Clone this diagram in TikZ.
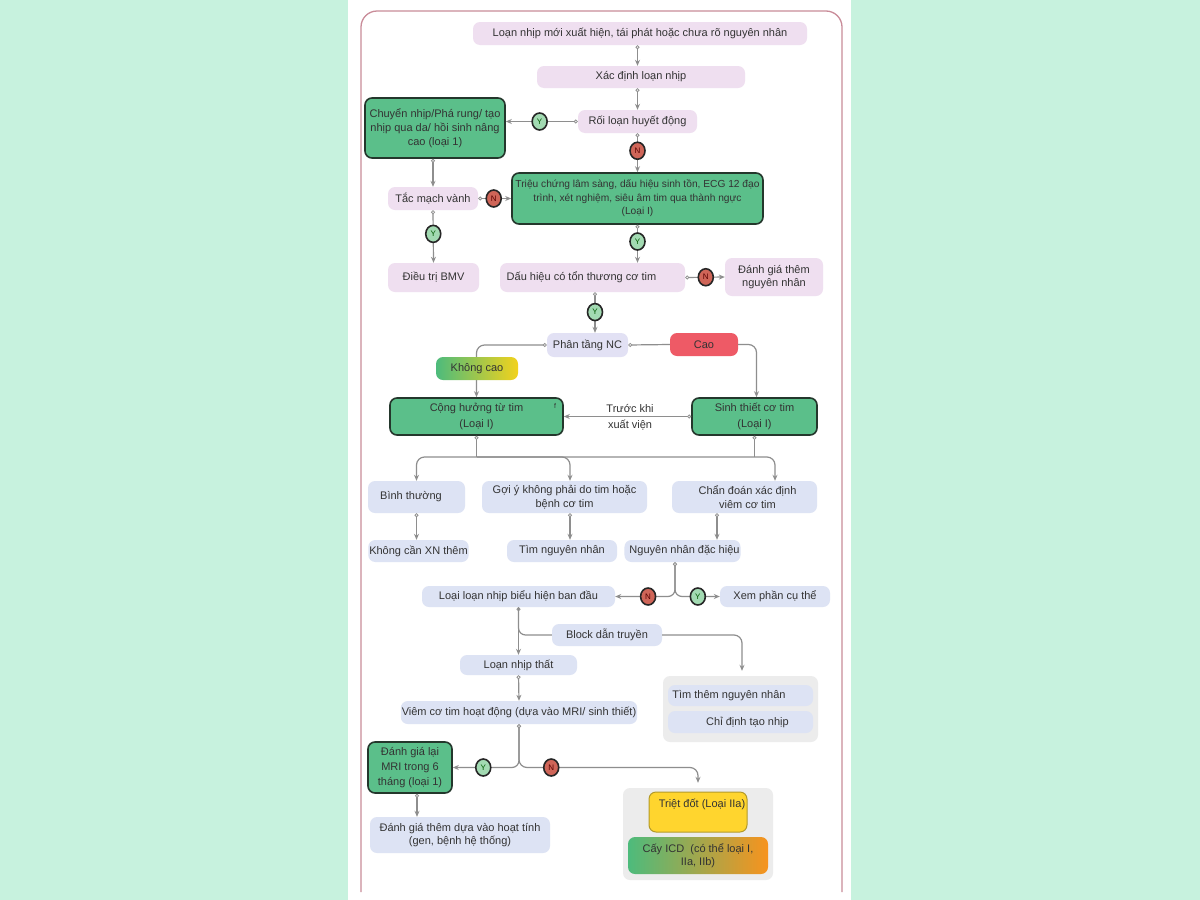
\documentclass[tikz,border=0pt]{standalone}
\usepackage{fontspec}
\setmainfont{Liberation Sans}
\usetikzlibrary{arrows.meta,shapes.geometric,calc}
\definecolor{mint}{HTML}{C7F2DE}
\definecolor{framec}{HTML}{C98C99}
\definecolor{pinkbox}{HTML}{EFDFF0}
\definecolor{lavbox}{HTML}{E2E1F4}
\definecolor{bluebox}{HTML}{DDE3F4}
\definecolor{greenbox}{HTML}{5BBF8A}
\definecolor{greenedge}{HTML}{24372C}
\definecolor{redbox}{HTML}{EE5A66}
\definecolor{linegray}{HTML}{8E8E8E}
\definecolor{txt}{HTML}{333333}
\definecolor{groupgray}{HTML}{ECECEC}
\definecolor{yellowbox}{HTML}{FFD52E}
\definecolor{yellowedge}{HTML}{B39A2A}
\definecolor{orangebox}{HTML}{F7931E}
\definecolor{gradgreen}{HTML}{4DBB7C}
\definecolor{gradyellow}{HTML}{F2D21C}
\definecolor{ygreen}{HTML}{A2DAB2}
\definecolor{nred}{HTML}{CF6558}
\begin{document}
\begin{tikzpicture}[x=1pt,y=-1pt,
  every node/.style={font=\fontsize{11}{13.5}\selectfont, text=txt},
  box/.style={rounded corners=7pt, inner sep=1pt, align=center},
  pinkb/.style={box, fill=pinkbox},
  lavb/.style={box, fill=lavbox},
  blueb/.style={box, fill=bluebox},
  greenb/.style={box, fill=greenbox, draw=greenedge, line width=1.6pt},
  groupb/.style={rounded corners=7pt, fill=groupgray, inner sep=0pt},
  yn/.style={ellipse, draw=black!85, line width=1.6pt, minimum width=15pt, minimum height=17pt, inner sep=0pt, font=\fontsize{8}{8}\selectfont},
  yes/.style={yn, fill=ygreen, text=green!35!black},
  no/.style={yn, fill=nred, text=red!35!black},
  line/.style={draw=linegray, line width=1.2pt},
  dotline/.style={line, {Circle[length=4pt, fill=white, line width=0.8pt]}-},
  conn/.style={line, {Circle[length=4pt, fill=white, line width=0.8pt]}-{Stealth[length=6pt, width=5pt]}},
  plainconn/.style={line, -{Stealth[length=6pt, width=5pt]}}
]
\useasboundingbox (0,0) rectangle (1200,900);
\fill[mint] (0,0) rectangle (1200,900);
\fill[white] (348,0) rectangle (851,900);
\draw[framec, line width=1.3pt, rounded corners=16pt] (361,892) -- (361,11) -- (842,11) -- (842,892);

% nodes
\node[pinkb, minimum width=334pt, minimum height=23pt] (n1) at (640,33.5) {Loạn nhịp mới xuất hiện, tái phát hoặc chưa rõ nguyên nhân};
\node[pinkb, minimum width=208pt, minimum height=22pt] (n2) at (641,77) {Xác định loạn nhịp};
\node[pinkb, minimum width=119pt, minimum height=23pt] (n3) at (637.5,121.5) {Rối loạn huyết động};
\node[greenb, minimum width=140pt, minimum height=60pt, font=\fontsize{11}{14}\selectfont] (n4) at (435,128) {Chuyển nhịp/Phá rung/ tạo\\nhịp qua da/ hồi sinh nâng\\cao (loại 1)};
\node[greenb, minimum width=251pt, minimum height=51pt, font=\fontsize{10.2}{13.5}\selectfont] (n6) at (637.5,198.5) {Triệu chứng lâm sàng, dấu hiệu sinh tồn, ECG 12 đạo\\trình, xét nghiệm, siêu âm tim qua thành ngực\\(Loại I)};
\node[pinkb, minimum width=90pt, minimum height=23pt] (n7) at (433,198.5) {Tắc mạch vành};
\node[pinkb, minimum width=91pt, minimum height=29pt] (n9) at (433.5,277.5) {Điều trị BMV};
\node[pinkb, minimum width=185pt, minimum height=29pt] (n11) at (592.5,277.5) {Dấu hiệu có tổn thương cơ tim\hspace*{22pt}};
\node[pinkb, minimum width=98pt, minimum height=38pt] (n13) at (774,277) {Đánh giá thêm\\nguyên nhân};
\node[lavb, minimum width=81pt, minimum height=24pt] (n15) at (587.5,345) {Phân tầng NC};
\node[box, fill=redbox, minimum width=68pt, minimum height=23pt] (n16) at (704,344.5) {Cao};
\node[greenb, minimum width=173pt, minimum height=37pt, font=\fontsize{11}{16}\selectfont] (n18) at (476.5,416.5) {Cộng hưởng từ tim\\(Loại I)};
\node[greenb, minimum width=125pt, minimum height=37pt, font=\fontsize{11}{16}\selectfont] (n19) at (754.5,416.5) {Sinh thiết cơ tim\\(Loại I)};
\node[font=\fontsize{7}{7}\selectfont] (fmark) at (555,406) {f};
\node[blueb, minimum width=97pt, minimum height=32pt] (n21) at (416.5,497) {Bình thường\hspace*{11pt}};
\node[blueb, minimum width=165pt, minimum height=32pt] (n22) at (564.5,497) {Gợi ý không phải do tim hoặc\\bệnh cơ tim};
\node[blueb, minimum width=145pt, minimum height=32pt] (n23) at (744.5,497) {\hspace*{6pt}Chẩn đoán xác định\\\hspace*{6pt}viêm cơ tim};
\node[blueb, minimum width=97pt, minimum height=22pt] (n25) at (418.5,551) {Không cần XN thêm};
\node[blueb, minimum width=110pt, minimum height=22pt] (n26) at (562,551) {Tìm nguyên nhân};
\node[blueb, minimum width=95pt, minimum height=22pt] (n27) at (682.5,551) {\hspace*{4pt}Nguyên nhân đặc hiệu};
\node[blueb, minimum width=193pt, minimum height=21pt] (n29) at (518.5,596.5) {Loại loạn nhịp biểu hiện ban đầu};
\node[blueb, minimum width=110pt, minimum height=21pt] (n30) at (775,596.5) {Xem phần cụ thể};
\node[blueb, minimum width=110pt, minimum height=22pt] (n31) at (607,635) {Block dẫn truyền};
\node[blueb, minimum width=117pt, minimum height=20pt] (n32) at (518.5,665) {Loạn nhịp thất};
\node[blueb, minimum width=222pt, minimum height=23pt] (n34) at (519,712.5) {Viêm cơ tim hoạt động (dựa vào MRI/ sinh thiết)};
\node[groupb, minimum width=155pt, minimum height=66pt] (g1) at (740.5,709) {};
\node[blueb, minimum width=145pt, minimum height=21pt] (n35a) at (740.5,695.5) {Tìm thêm nguyên nhân\hspace*{23pt}};
\node[blueb, minimum width=145pt, minimum height=22pt] (n35b) at (740.5,722) {\hspace*{14pt}Chỉ định tạo nhịp};
\node[greenb, minimum width=84pt, minimum height=51pt, font=\fontsize{11}{15}\selectfont] (n37) at (410,767.5) {Đánh giá lại\\MRI trong 6\\tháng (loại 1)};
\node[blueb, minimum width=180pt, minimum height=36pt] (n39) at (460,835) {Đánh giá thêm dựa vào hoạt tính\\(gen, bệnh hệ thống)};
\node[groupb, minimum width=150pt, minimum height=92pt] (g2) at (698,834) {};
\node[box, fill=yellowbox, draw=yellowedge, line width=1pt, minimum width=98pt, minimum height=40pt, text depth=18pt] (n41) at (698,812) {\hspace*{8pt}Triệt đốt (Loại IIa)};
\node[box, left color=gradgreen, middle color=gradyellow, right color=orangebox, minimum width=140pt, minimum height=37pt] (n42) at (698,855.5) {Cấy ICD~~(có thể loại I,\\IIa, IIb)};

% connectors
\draw[conn] (n3.north |- n1.south) -- (n3.north |- n2.north);
\draw[conn] (n3.north |- n2.south) -- (n3.north);
\draw[conn] (n3.west) -- node[yes, pos=0.53] (y1) {Y} (n3.west -| n4.east);
\draw[conn] (n3.south) -- node[no, pos=0.45] (x1) {N} (n6.north);
\draw[conn] (n7.north |- n4.south) -- (n7.north);
\draw[conn] (n7.east) -- node[no, pos=0.47] (x2) {N} (n6.west);
\draw[conn] (n7.south) -- node[yes, pos=0.45] (y2) {Y} (n9.north);
\draw[conn] (n6.south) -- node[yes, pos=0.44] (y3) {Y} (n6.south |- n11.north);
\draw[conn] (n11.east) -- node[no, pos=0.52] (x3) {N} (n13.west);
\draw[conn] ([xshift=2.5pt]n11.south) -- node[yes, pos=0.49] (y4) {Y} ([xshift=2.5pt]n11.south |- n15.north);
\draw[dotline] (n15.east) -- (n16.west);
\draw[plainconn, rounded corners=8pt] (n16.east) -| ([xshift=2pt]n19.north);
\draw[conn, rounded corners=8pt] (n15.west) -| (n18.north);
\node[box, left color=gradgreen, right color=gradyellow, minimum width=82pt, minimum height=23pt] (n17) at (477,368.5) {Không cao};
\draw[conn] (n19.west) -- node[pos=0.48, above] (lb1) {Trước khi} node[pos=0.48, below] (lb2) {xuất viện} (n18.east);

\coordinate (bus) at (0,457);
\draw[dotline] (n18.south) -- (n18.south |- bus);
\draw[dotline] (n19.south) -- (n19.south |- bus);
\draw[plainconn, rounded corners=8pt] (n18.south |- bus) -| (n21.north);
\draw[plainconn, rounded corners=8pt] (n18.south |- bus) -| ([xshift=5.5pt]n22.north);
\draw[plainconn, rounded corners=8pt] (n18.south |- bus) -| ([xshift=30.5pt]n23.north);

\draw[conn] (n21.south) -- (n21.south |- n25.north);
\draw[conn] ([xshift=5.5pt]n22.south) -- ([xshift=5.5pt]n22.south |- n26.north);
\draw[conn] ([xshift=-27.5pt]n23.south) -- ([xshift=-27.5pt]n23.south |- n27.north);
\draw[conn, rounded corners=7pt] ([xshift=-7.5pt]n27.south) |- node[no, pos=0.725] (x4) {N} (n29.east);
\draw[conn, rounded corners=7pt] ([xshift=-7.5pt]n27.south) |- node[yes, pos=0.755] (y5) {Y} (n30.west);
\draw[conn] (n29.south) -- (n32.north);
\draw[line, rounded corners=7pt] (n29.south) |- (n31.west);
\draw[plainconn, rounded corners=8pt, shorten >=5pt] (n31.east) -| ([xshift=1.5pt]g1.north);
\draw[conn] (n32.south) -- (n34.north);
\draw[conn, rounded corners=7pt] (n34.south) |- node[yes, pos=0.77] (y6) {Y} (n37.east);
\draw[conn, rounded corners=8pt, shorten >=5pt] (n34.south) |- node[no, pos=0.59] (x5) {N} (g2.north |- n37.east) -- (g2.north);
\draw[conn] ([xshift=7pt]n37.south) -- ([xshift=7pt]n37.south |- n39.north);
\end{tikzpicture}
\end{document}
